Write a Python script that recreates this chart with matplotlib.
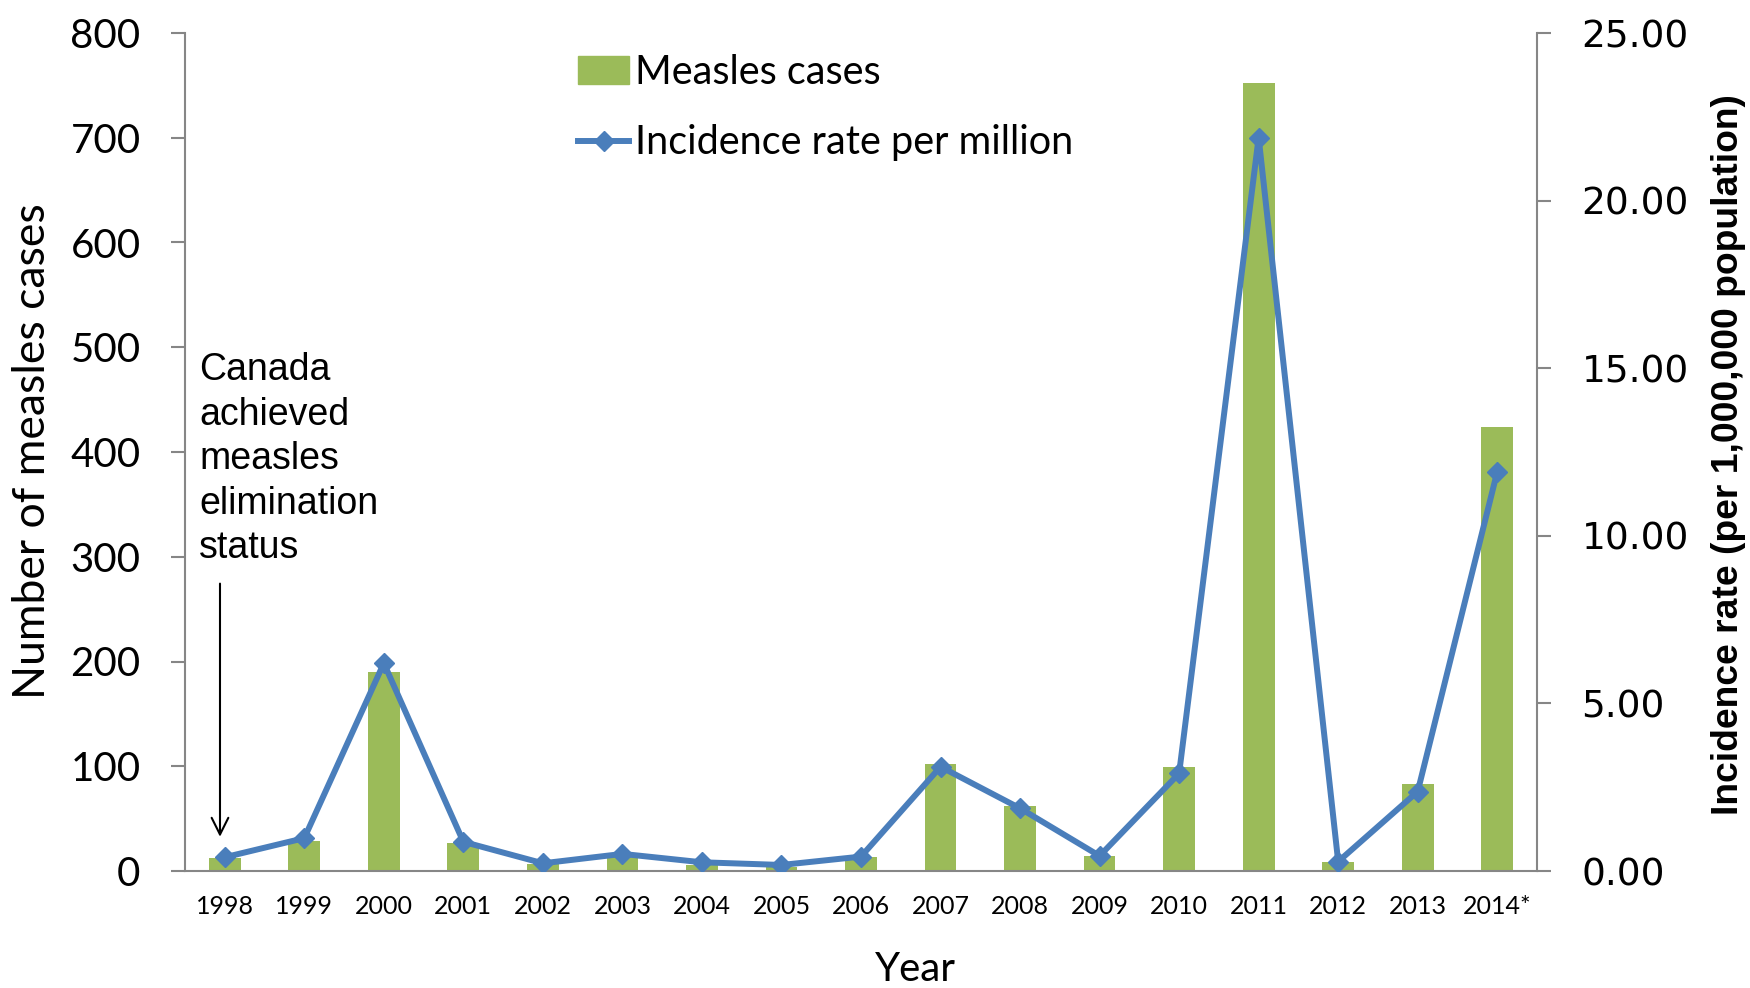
import matplotlib
matplotlib.use("Agg")
import matplotlib.pyplot as plt
import numpy as np
from matplotlib.patches import Patch
from matplotlib.lines import Line2D
from matplotlib import font_manager

# reported measles cases and incidence per million, Canada
years = ["1998", "1999", "2000", "2001", "2002", "2003", "2004", "2005", "2006",
         "2007", "2008", "2009", "2010", "2011", "2012", "2013", "2014*"]
cases = [12, 29, 190, 27, 7, 14, 6, 4, 13, 102, 62, 14, 99, 752, 9, 83, 424]
rate = [0.41, 0.98, 6.20, 0.87, 0.23, 0.51, 0.26, 0.18, 0.43, 3.11, 1.87, 0.45,
        2.91, 21.88, 0.28, 2.37, 11.91]

left_ticks = [0, 100, 200, 300, 400, 500, 600, 700, 800]
right_ticks = [0, 5, 10, 15, 20, 25]

GREEN = "#9BBB59"
BLUE = "#4A7EBB"
GREY = "#868686"
W, H = 1750, 988

# narrow bold face for the right axis title if there is one
names = {f.name for f in font_manager.fontManager.ttflist}
if "Liberation Sans Narrow" in names:
    narrow, narrow_size = "Liberation Sans Narrow", 31
else:
    narrow, narrow_size = "Liberation Sans", 26.8

fig = plt.figure(figsize=(17.5, 9.88), dpi=100)
ax = fig.add_axes([185 / W, 1 - 871 / H, 1352 / W, 838 / H])
x = np.arange(len(years))

ax.bar(x, cases, width=0.4, color=GREEN, zorder=2)
ax.set_xlim(-0.5, len(years) - 0.5)
ax.set_ylim(0, 800)
ax.set_yticks(left_ticks)
ax.set_yticklabels([str(t) for t in left_ticks], family="Lato", fontsize=29)
ax.set_xticks(x)
ax.set_xticklabels(years, family="Lato", fontsize=18)
ax.tick_params(axis="x", length=0, pad=17)
ax.tick_params(axis="y", length=10, width=1.5, color=GREY, pad=22)

ax2 = ax.twinx()
ax2.plot(x, rate, color=BLUE, lw=4.3, marker="D", markersize=10.5, zorder=3)
ax2.set_ylim(0, 25)
ax2.set_yticks(right_ticks)
ax2.set_yticklabels(["%.2f" % t for t in right_ticks], family="DejaVu Sans", fontsize=27)
ax2.tick_params(axis="y", length=10, width=1.5, color=GREY, pad=22)

for a in (ax, ax2):
    a.spines["top"].set_visible(False)
    for s in ("left", "right", "bottom"):
        a.spines[s].set_color(GREY)
        a.spines[s].set_linewidth(1.5)
ax.spines["right"].set_visible(False)
ax2.spines["left"].set_visible(False)
ax2.spines["bottom"].set_visible(False)

# axis titles
fig.text(33 / W, 1 - 451 / H, "Number of measles cases", rotation=90,
         ha="center", va="center", family="Lato", fontsize=32)
fig.text(1728 / W, 1 - 455 / H, "Incidence rate (per 1,000,000 population)",
         rotation=90, ha="center", va="center", fontsize=narrow_size,
         weight="bold", family=[narrow, "DejaVu Sans"])
fig.text(915 / W, 1 - 969 / H, "Year", ha="center", va="center",
         family="Lato", fontsize=29)

# elimination note with arrow down to 1998
ax.text(-0.32, 495, "Canada\nachieved\nmeasles\nelimination\nstatus",
        ha="left", va="top", family="Liberation Sans", fontsize=27, linespacing=1.3)
ax.annotate("", xy=(-0.06, 30), xytext=(-0.06, 277),
            arrowprops=dict(arrowstyle="->", color="black", lw=1.5,
                            mutation_scale=30))

handles = [Patch(color=GREEN),
           Line2D([], [], color=BLUE, lw=4.3, marker="D", markersize=10.5)]
fig.legend(handles, ["Measles cases", "Incidence rate per million"],
           loc="upper left", bbox_to_anchor=(562 / W, 1 - 38 / H), frameon=False,
           prop=dict(family="Lato", size=28.5), handlelength=1.3, handletextpad=0.15,
           labelspacing=0.85, borderaxespad=0)

fig.savefig("out.png", dpi=100)
